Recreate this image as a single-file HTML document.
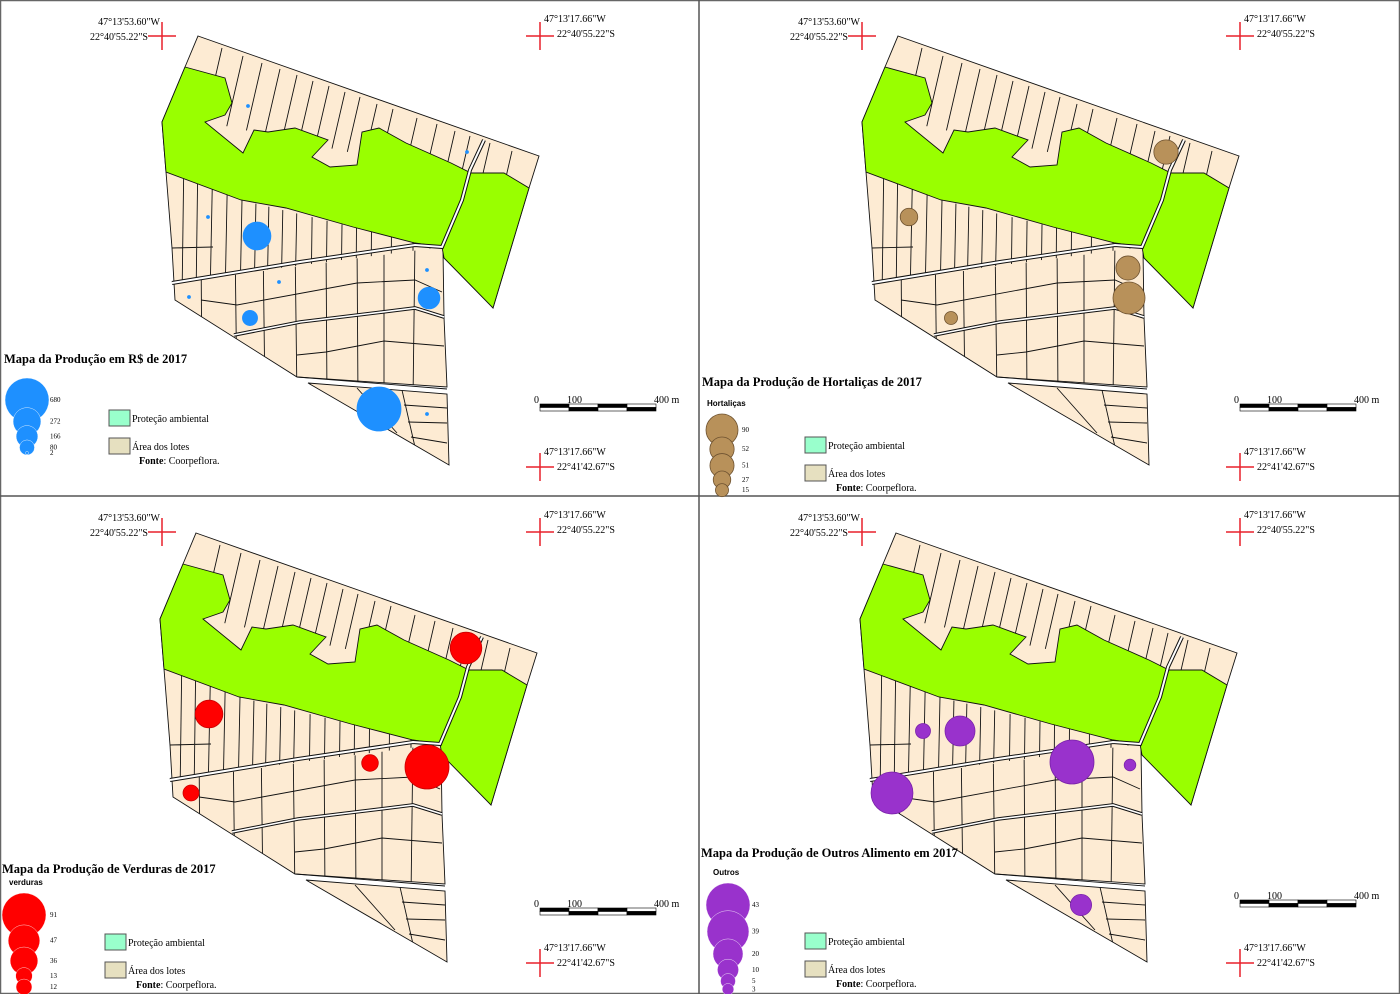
<!DOCTYPE html>
<html><head><meta charset="utf-8"><style>
html,body{margin:0;padding:0;background:#fff}
svg{display:block}
text{font-family:"Liberation Serif",serif}
.t{font-weight:bold;font-size:12.5px}
.c{font-size:10px}
.s{font-size:7px}
.lg{font-size:10px}
</style></head><body>
<svg id="root" width="1400" height="994" viewBox="0 0 1400 994" xmlns="http://www.w3.org/2000/svg">
<defs>
<clipPath id="cTop"><polygon points="190,30 545,150 535,190 470,178 160,112"/></clipPath>
<clipPath id="cMid"><polygon points="166,172 241,200 353,227 442,247 172,282"/></clipPath>
<clipPath id="cLow"><polygon points="174,283 442,247 444,317 447,387 297,377 175,300"/></clipPath>
<clipPath id="cBlk"><polygon points="308,383 447,394 449,465"/></clipPath>
<g id="basemap" stroke="#111" stroke-width="0.9" fill="none">
  <polygon points="198,36 539,156 529,188 493,308 443,250 444,317 447,387 297,377 175,300 172,248 166,172 162,122 185,67" fill="#fdebd3"/>
  <polygon points="308,383 447,394 449,465" fill="#fdebd3"/>
  <g clip-path="url(#cTop)">
    <path d="M222,48 l-30,130 M243,56 l-30,130 M262,63 l-30,130 M280,69 l-30,130 M297,75 l-30,130 M313,81 l-30,130 M329,86 l-30,130 M345,92 l-30,130 M360,97 l-30,130 M377,104 l-30,130 M393,109 l-30,130 M417,118 l-30,130 M437,124 l-30,130 M455,131 l-30,130 M470,136 l-30,130 M490,143 l-30,130 M512,151 l-30,130"/>
  </g>
  <g clip-path="url(#cMid)">
    <path d="M184,150 l-2,150 M198,150 l-2,150 M213,150 l-3,150 M228,150 l-3,150 M243,150 l-3,150 M257,150 l-3,150 M270,150 l-3,150 M284,150 l-3,150 M298,150 l-3,150 M313,150 l-2,150 M328,150 l-2,150 M343,150 l-2,150 M357,150 l-1,150 M372,150 l-1,150 M392,150 l-1,150 M413,150 l0,150 M430,150 l0,150 M172,248 L213,247"/>
  </g>
  <g clip-path="url(#cLow)">
    <path d="M201,240 l1,160 M235,240 l2,160 M263,240 l2,160 M295,240 l2,160 M326,240 l1,160 M357,240 l1,160 M384,240 l0,160 M415,240 l-2,160"/>
    <path d="M201,300 L237,305 L357,283 L415,280 L442,292"/>
    <path d="M297,355 L326,352 L384,341 L444,346"/>
  </g>
  <g clip-path="url(#cBlk)">
    <path d="M357,388 L397,433 M402,390 L415,447 M404,405 L447,408 M408,422 L447,423 M411,437 L447,443"/>
  </g>
  <polygon points="185,67 225,78 232,103 225,115 205,122 243,153 254,130 268,132 295,128 328,140 312,157 330,167 357,165 362,132 379,128 406,143 451,163 471,173 504,173 529,188 493,308 444,258 442,247 415,243 353,227 286,208 241,200 166,172 162,122" fill="#99ff00"/>
  <path d="M172,283 L300,262 L415,245 L442,247 L462,200 L470,170 L484,140" stroke="#111" stroke-width="4"/>
  <path d="M172,283 L300,262 L415,245 L442,247 L462,200 L470,170 L484,140" stroke="#fff" stroke-width="2"/>
  <path d="M234,335 L300,322 L415,308 L444,317" stroke="#111" stroke-width="3.6"/>
  <path d="M234,335 L300,322 L415,308 L444,317" stroke="#fff" stroke-width="1.6"/>
  <path d="M297,377 L447,389" stroke="#111" stroke-width="0.9"/>
</g>
</defs>
<rect x="0.5" y="0.5" width="1399" height="993" fill="none" stroke="#666" stroke-width="1.5"/>
<line x1="699" y1="0" x2="699" y2="994" stroke="#555" stroke-width="1.5"/>
<line x1="0" y1="496" x2="1400" y2="496" stroke="#555" stroke-width="1.5"/>
<g id="panels"></g>
</svg>
<script>
// Bubble data per panel
const p1Values=[272,166,80,680,2,2,2,2,2,2,2];
const p1Pos=[[257,236],[429,298],[250,318],[379,409],[248,106],[467,152],[208,217],[189,297],[279,282],[427,270],[427,414]];
const p1Legend=[680,272,166,80,2];
const p2Values=[52,27,51,90,15];
const p2Pos=[[466,152],[209,217],[428,268],[429,298],[251,318]];
const p2Legend=[90,52,51,27,15];
const p3Values=[47,36,91,13,12];
const p3Pos=[[468,151],[211,217],[429,270],[372,266],[193,296]];
const p3Legend=[91,47,36,13,12];
const p4Values=[5,20,43,3,39,10];
const p4Pos=[[225,234],[262,234],[374,265],[432,268],[194,296],[383,408]];
const p4Legend=[43,39,20,10,5,3];

const NS="http://www.w3.org/2000/svg";
const root=document.getElementById('panels');
function mk(tag,attrs,parent,txt){const e=document.createElementNS(NS,tag);for(const k in attrs)e.setAttribute(k,attrs[k]);if(txt!==undefined)e.textContent=txt;(parent||root).appendChild(e);return e;}

const panels=[
 {ox:0,oy:0,mx:0,my:0,vals:p1Values,pos:p1Pos,leg:p1Legend,max:680,rmax:22,fill:'#1e90ff',stroke:'#1e90ff',title:'Mapa da Produção em  R$ de 2017',tx:4,ty:363,lname:'',lx:27,ly:378,labx:50,boxY:410,fx:139,fy:464,sy:0,name:'rs',k:0.6},
 {ox:700,oy:0,mx:700,my:0,vals:p2Values,pos:p2Pos,leg:p2Legend,max:90,rmax:16,fill:'#b8915a',stroke:'#6e5230',title:'Mapa da Produção de Hortaliças de 2017',tx:702,ty:386,lname:'Hortaliças',lx:722,ly:414,labx:742,boxY:437,fx:836,fy:491,sy:0,name:'hortalicas',k:0.68},
 {ox:0,oy:496,mx:-2,my:497,vals:p3Values,pos:p3Pos,leg:p3Legend,max:91,rmax:22,fill:'#ff0000',stroke:'#cc0000',title:'Mapa da Produção de Verduras de 2017',tx:2,ty:873,lname:'verduras',lx:24,ly:893,labx:50,boxY:934,fx:136,fy:988,sy:504,name:'verduras',k:0.68},
 {ox:700,oy:496,mx:698,my:497,vals:p4Values,pos:p4Pos,leg:p4Legend,max:43,rmax:22,fill:'#9932cc',stroke:'#7a22aa',title:'Mapa da Produção de Outros Alimento em 2017',tx:701,ty:857,lname:'Outros',lx:728,ly:883,labx:752,boxY:933,fx:836,fy:987,sy:496,name:'outros',k:0.62}
];
function rad(v,p){return Math.max(1.5,p.rmax*Math.sqrt(v/p.max));}

panels.forEach((p,pi)=>{
 const g=mk('g',{});
 
 
 const u=mk('use',{href:'#basemap',transform:`translate(${p.mx},${p.my})`},g);
 
 
 p.vals.forEach((v,i)=>{
  const c=mk('circle',{cx:p.pos[i][0]+p.mx,cy:p.pos[i][1]+p.my,r:rad(v,p),fill:p.fill,stroke:p.stroke,'stroke-width':0.8},g);
  
  
 });
 const cx1=162+p.ox, cy1=36+p.oy, cx2=540+p.ox, cy3=467+p.oy;
 [[cx1,cy1],[cx2,cy1],[cx2,cy3]].forEach((c,i)=>{
  const cr=mk('path',{d:`M${c[0]-14},${c[1]} h28 M${c[0]},${c[1]-14} v28`,stroke:'#e8212b','stroke-width':1.5,fill:'none'},g);
  
  
 });
 const t1=mk('text',{x:cx1-2,y:cy1-11,'text-anchor':'end',class:'c'},g,'47°13\'53.60"W');
 
 
 const t2=mk('text',{x:cx1-14,y:cy1+4,'text-anchor':'end',class:'c'},g,'22°40\'55.22"S');
 
 
 const t3=mk('text',{x:cx2+4,y:cy1-14,class:'c'},g,'47°13\'17.66"W');
 
 
 const t4=mk('text',{x:cx2+17,y:cy1+1,class:'c'},g,'22°40\'55.22"S');
 
 
 const t5=mk('text',{x:cx2+4,y:cy3-12,class:'c'},g,'47°13\'17.66"W');
 
 
 const t6=mk('text',{x:cx2+17,y:cy3+3,class:'c'},g,'22°41\'42.67"S');
 
 
 const sx=540+p.ox, sy=404+p.sy;
 const sb=mk('g',{},g);
 
 
 for(let k=0;k<4;k++){
  mk('rect',{x:sx+k*29,y:sy,width:29,height:3.5,fill:k%2?'#fff':'#000',stroke:'#000','stroke-width':0.6},sb);
  mk('rect',{x:sx+k*29,y:sy+3.5,width:29,height:3.5,fill:k%2?'#000':'#fff',stroke:'#000','stroke-width':0.6},sb);
 }
 mk('text',{x:sx-6,y:sy-1,class:'c'},sb,'0');
 mk('text',{x:sx+27,y:sy-1,class:'c'},sb,'100');
 mk('text',{x:sx+114,y:sy-1,class:'c'},sb,'400 m');
 const tt=mk('text',{x:p.tx,y:p.ty,class:'t'},g,p.title);
 
 
 if(p.lname){
  const ln=mk('text',{x:p.lx-15,y:p.ly-8,'font-weight':'bold','font-size':'8px',style:'font-family:"Liberation Sans",sans-serif'},g,p.lname);
  
  
 }
 let cy=p.ly+rad(p.leg[0],p), prevR=null;
 p.leg.forEach((v,i)=>{
  const r=rad(v,p);
  if(prevR!==null) cy+= (prevR+r)*p.k;
  prevR=r;
  const c=mk('circle',{cx:p.lx,cy:cy,r:r,fill:p.fill,stroke:pi===1?p.stroke:'#fff','stroke-width':pi===1?0.8:0.4},g);
  
  
  const lb=mk('text',{x:p.labx,y:cy+2,class:'s'},g,String(v));
  
  
 });
 const bx=pi%2?805:(pi===0?109:105);
 const l1=mk('rect',{x:bx,y:p.boxY,width:21,height:16,fill:'#99ffcc',stroke:'#555','stroke-width':1},g);
 
 
 mk('text',{x:bx+23,y:p.boxY+12,class:'lg'},g,'Proteção ambiental');
 const l2=mk('rect',{x:bx,y:p.boxY+28,width:21,height:16,fill:'#e6e0c0',stroke:'#555','stroke-width':1},g);
 
 
 mk('text',{x:bx+23,y:p.boxY+40,class:'lg'},g,'Área dos lotes');
 const f=mk('text',{x:p.fx,y:p.fy,class:'lg'},g,'');
 
 
 mk('tspan',{'font-weight':'bold'},f,'Fonte');
 mk('tspan',{},f,': Coorpeflora.');
});
</script>
</body></html>
